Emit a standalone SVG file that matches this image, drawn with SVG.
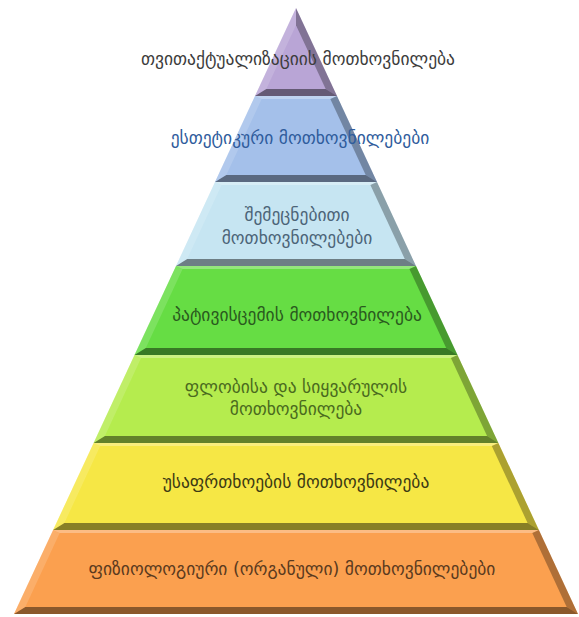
<svg xmlns="http://www.w3.org/2000/svg" width="579" height="617" viewBox="0 0 579 617">
<style>
.bt{fill:#fff;opacity:.3}
.bl{fill:#fff;opacity:.15}
.br{fill:#000;opacity:.3}
.bb{fill:#000;opacity:.45}
text{font-family:"DejaVu Sans","Noto Sans",sans-serif;font-size:17.5px;text-anchor:middle}
</style>
<rect width="579" height="617" fill="#fff"/>
<g id="level1">
<polygon points="296,8 337,96 255,96" fill="#b9a5d6"/>
<polygon class="br" points="296,8 337,96 325.7,89 296,25.2"/>
<polygon class="bb" points="337,96 255,96 266.3,89 325.7,89"/>
<polygon class="bl" points="255,96 296,8 296,25.2 266.3,89"/>
<text x="298" y="65" fill="#3c3c3c">თვითაქტუალიზაციის მოთხოვნილება</text>
</g>
<g id="level2">
<polygon points="255,96 337,96 377,182 215,182" fill="#a4c0ea"/>
<polygon class="bt" points="255,96 337,96 330.3,99 261.7,99"/>
<polygon class="br" points="337,96 377,182 365.7,175 330.3,99"/>
<polygon class="bb" points="377,182 215,182 226.3,175 365.7,175"/>
<polygon class="bl" points="215,182 255,96 261.7,99 226.3,175"/>
<text x="300" y="144" fill="#2f5c9c">ესთეტიკური მოთხოვნილებები</text>
</g>
<g id="level3">
<polygon points="215,182 377,182 416,266 176,266" fill="#c6e5f2"/>
<polygon class="bt" points="215,182 377,182 370.4,185 221.6,185"/>
<polygon class="br" points="377,182 416,266 404.8,259 370.4,185"/>
<polygon class="bb" points="416,266 176,266 187.2,259 404.8,259"/>
<polygon class="bl" points="176,266 215,182 221.6,185 187.2,259"/>
<text x="297" y="221" fill="#4c6478">შემეცნებითი</text>
<text x="297" y="244" fill="#4c6478">მოთხოვნილებები</text>
</g>
<g id="level4">
<polygon points="176,266 416,266 457.5,355 134.5,355" fill="#66dd44"/>
<polygon class="bt" points="176,266 416,266 409.4,269 182.6,269"/>
<polygon class="br" points="416,266 457.5,355 446.2,348 409.4,269"/>
<polygon class="bb" points="457.5,355 134.5,355 145.8,348 446.2,348"/>
<polygon class="bl" points="134.5,355 176,266 182.6,269 145.8,348"/>
<text x="297" y="321" fill="#2a5a1e">პატივისცემის მოთხოვნილება</text>
</g>
<g id="level5">
<polygon points="134.5,355 457.5,355 498.4,443 93.6,443" fill="#b5ec4e"/>
<polygon class="bt" points="134.5,355 457.5,355 450.9,358 141.1,358"/>
<polygon class="br" points="457.5,355 498.4,443 487.1,436 450.9,358"/>
<polygon class="bb" points="498.4,443 93.6,443 104.9,436 487.1,436"/>
<polygon class="bl" points="93.6,443 134.5,355 141.1,358 104.9,436"/>
<text x="296" y="393" fill="#4a6a1e">ფლობისა და სიყვარულის</text>
<text x="296" y="415" fill="#4a6a1e">მოთხოვნილება</text>
</g>
<g id="level6">
<polygon points="93.6,443 498.4,443 538.9,530 53.1,530" fill="#f6e745"/>
<polygon class="bt" points="93.6,443 498.4,443 491.8,446 100.2,446"/>
<polygon class="br" points="498.4,443 538.9,530 527.6,523 491.8,446"/>
<polygon class="bb" points="538.9,530 53.1,530 64.4,523 527.6,523"/>
<polygon class="bl" points="53.1,530 93.6,443 100.2,446 64.4,523"/>
<text x="296" y="488" fill="#3c3a14">უსაფრთხოების მოთხოვნილება</text>
</g>
<g id="level7">
<polygon points="53.1,530 538.9,530 578,614 14,614" fill="#fba04f"/>
<polygon class="bt" points="53.1,530 538.9,530 532.3,533 59.7,533"/>
<polygon class="br" points="538.9,530 578,614 566.7,607 532.3,533"/>
<polygon class="bb" points="578,614 14,614 25.3,607 566.7,607"/>
<polygon class="bl" points="14,614 53.1,530 59.7,533 25.3,607"/>
<text x="292" y="575" fill="#5a3a1e">ფიზიოლოგიური (ორგანული) მოთხოვნილებები</text>
</g>
<g id="connectors"/>
</svg>
